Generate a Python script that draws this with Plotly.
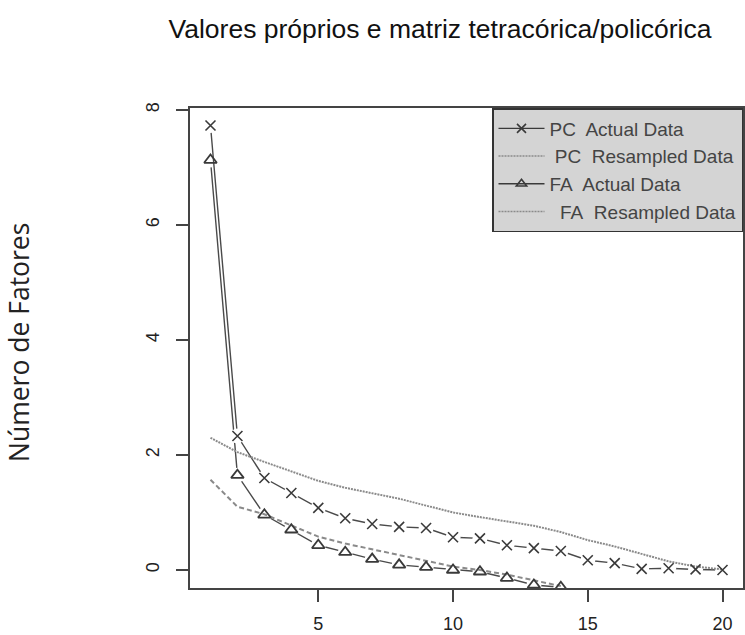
import plotly.graph_objects as go

factors = list(range(1, 21))
pc_actual = [7.73, 2.33, 1.60, 1.34, 1.08, 0.90, 0.80, 0.75, 0.73, 0.57,
             0.55, 0.43, 0.38, 0.33, 0.17, 0.12, 0.02, 0.03, 0.01, 0.0]
pc_resampled = [2.30, 2.05, 1.88, 1.72, 1.55, 1.43, 1.34, 1.24, 1.12, 1.00,
                0.92, 0.84, 0.77, 0.66, 0.52, 0.41, 0.28, 0.15, 0.06, 0.01]
fa_factors = list(range(1, 15))
fa_actual = [7.13, 1.65, 0.96, 0.70, 0.43, 0.31, 0.19, 0.09, 0.05, 0.0,
             -0.03, -0.14, -0.26, -0.30]
fa_resampled = [1.57, 1.10, 0.97, 0.77, 0.58, 0.46, 0.36, 0.25, 0.15, 0.06,
                0.0, -0.08, -0.18, -0.28]

legend_names = ["PC\u00a0 Actual Data", "\u00a0PC\u00a0 Resampled Data",
                "FA\u00a0 Actual Data", "\u00a0\u00a0FA\u00a0 Resampled Data"]
title_text = "Valores próprios e matriz tetracórica/policórica"
ylabel_text = "Número de Fatores"
xtick_vals = [5, 10, 15, 20]
ytick_vals = [0, 2, 4, 6, 8]

LINE = "#4a4a4a"
MARK = "#3a3a3a"
RES = "#8a8a8a"

fig = go.Figure()
# FA actual line + gaps
fig.add_trace(go.Scatter(x=fa_factors, y=fa_actual, mode="lines",
                         line=dict(color=LINE, width=1.4), showlegend=False, hoverinfo="skip"))
fig.add_trace(go.Scatter(x=fa_factors, y=fa_actual, mode="markers",
                         marker=dict(symbol="circle", size=15, color="white"),
                         showlegend=False, hoverinfo="skip"))
# PC actual line + gaps
fig.add_trace(go.Scatter(x=factors, y=pc_actual, mode="lines",
                         line=dict(color=LINE, width=1.4), showlegend=False, hoverinfo="skip"))
fig.add_trace(go.Scatter(x=factors, y=pc_actual, mode="markers",
                         marker=dict(symbol="circle", size=15, color="white"),
                         showlegend=False, hoverinfo="skip"))
# resampled
fig.add_trace(go.Scatter(x=factors, y=pc_resampled, mode="lines",
                         line=dict(color=RES, width=2, dash="2px,1px"),
                         showlegend=False, hoverinfo="skip"))
fig.add_trace(go.Scatter(x=fa_factors, y=fa_resampled, mode="lines",
                         line=dict(color=RES, width=2, dash="5px,3px"),
                         showlegend=False, hoverinfo="skip"))
# markers
fig.add_trace(go.Scatter(x=factors, y=pc_actual, mode="markers",
                         marker=dict(symbol="x-thin-open", size=10, color=MARK,
                                     line=dict(color=MARK, width=1.6)),
                         showlegend=False))
fig.add_trace(go.Scatter(x=fa_factors, y=fa_actual, mode="markers",
                         marker=dict(symbol="triangle-up-open", size=11, color=MARK,
                                     line=dict(color=MARK, width=1.8)),
                         showlegend=False))

# legend entries
fig.add_trace(go.Scatter(x=[None], y=[None], mode="lines+markers", name=legend_names[0],
                         line=dict(color=MARK, width=1.4),
                         marker=dict(symbol="x-thin-open", size=9, color=MARK,
                                     line=dict(color=MARK, width=1.6))))
fig.add_trace(go.Scatter(x=[None], y=[None], mode="lines", name=legend_names[1],
                         line=dict(color=RES, width=1.5, dash="2px,1px")))
fig.add_trace(go.Scatter(x=[None], y=[None], mode="lines+markers", name=legend_names[2],
                         line=dict(color=MARK, width=1.4),
                         marker=dict(symbol="triangle-up-open", size=9, color=MARK,
                                     line=dict(color=MARK, width=1.6))))
fig.add_trace(go.Scatter(x=[None], y=[None], mode="lines", name=legend_names[3],
                         line=dict(color=RES, width=1.5, dash="2px,1px")))

axis_common = dict(showline=True, linecolor="#444", linewidth=2, mirror=True,
                   ticks="outside", ticklen=12, tickwidth=1.5, tickcolor="#444",
                   showgrid=False, zeroline=False, automargin=False,
                   tickfont=dict(family="Liberation Sans, Arial", size=18, color="#222"))

fig.update_layout(
    width=745, height=635,
    margin=dict(l=190, r=2, t=108, b=47, autoexpand=False),
    paper_bgcolor="white", plot_bgcolor="white",
    title=dict(text=title_text, x=440 / 745, xanchor="center", xref="container",
               y=1 - 29 / 635, yanchor="middle", yref="container",
               font=dict(family="Liberation Sans, Arial", size=26.5, color="#111")),
    xaxis=dict(range=[0.24, 20.76], tickvals=xtick_vals, ticklabelstandoff=6, **axis_common),
    yaxis=dict(range=[-0.313, 8.035], tickvals=ytick_vals, tickangle=-90,
               ticklabelstandoff=10, **axis_common),
    legend=dict(x=1, xanchor="right", y=1, yanchor="top",
                bgcolor="#d4d4d4", bordercolor="#333", borderwidth=1.5,
                itemwidth=46, tracegroupgap=0,
                font=dict(family="Liberation Sans, Arial", size=19, color="#444")),
    annotations=[dict(text=ylabel_text, xref="paper", yref="paper",
                      x=(19 - 190) / 553, y=(588 - 343) / 480, xanchor="center", yanchor="middle",
                      textangle=-90, showarrow=False,
                      font=dict(family="Open Sans", size=26.5, color="#222"))],
)

fig.write_html("out.html", config={"displayModeBar": False},
               post_script="document.body.style.margin='0';")
